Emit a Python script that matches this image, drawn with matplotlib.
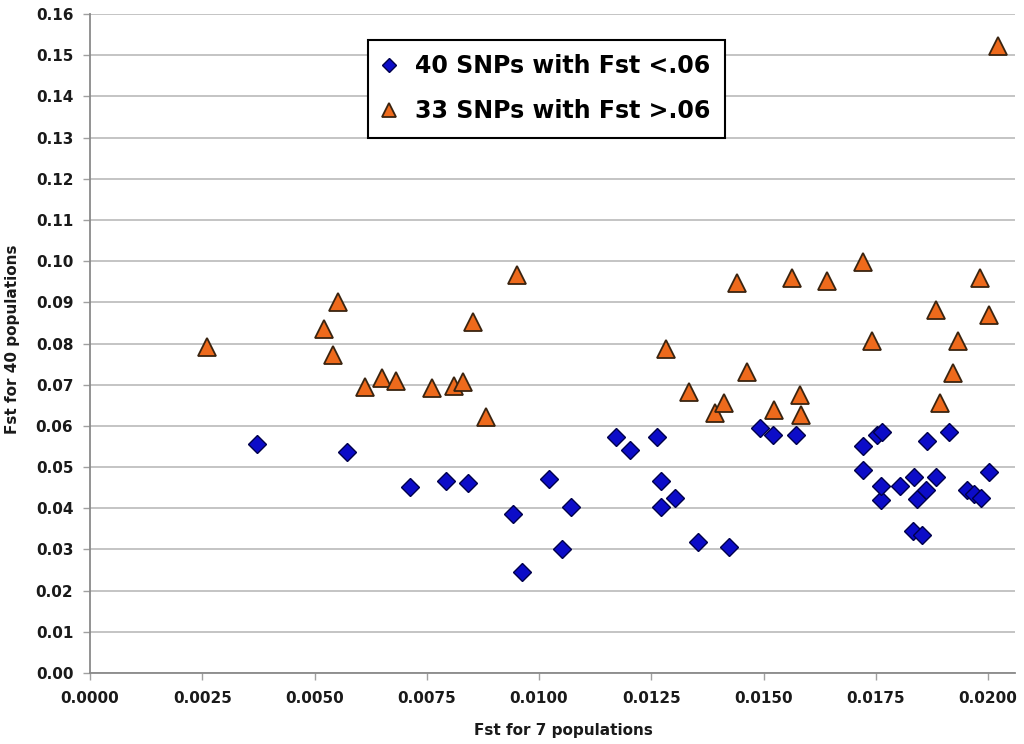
import matplotlib
matplotlib.use("Agg")
import matplotlib.pyplot as plt
from matplotlib.ticker import FormatStrFormatter, MultipleLocator

plt.rcParams['font.family'] = ['DejaVu Sans']
plt.rcParams['font.weight'] = 'bold'

# SNPs with Fst < .06 (40 populations)
low_x = [0.00371, 0.00572, 0.00713, 0.00792, 0.00841, 0.00941, 0.00963, 0.01022,
         0.01052, 0.01071, 0.01172, 0.01203, 0.01262, 0.01272, 0.01272, 0.01303,
         0.01353, 0.01423, 0.01493, 0.01522, 0.01572, 0.01722, 0.01722, 0.01752,
         0.01763, 0.01761, 0.01762, 0.01803, 0.01834, 0.01832, 0.01842, 0.01852,
         0.01862, 0.01863, 0.01884, 0.01913, 0.01953, 0.01968, 0.01985, 0.02003]
low_y = [0.0556, 0.0537, 0.0451, 0.0467, 0.0462, 0.0386, 0.0245, 0.0471,
         0.0301, 0.0403, 0.0573, 0.0542, 0.0574, 0.0467, 0.0404, 0.0424,
         0.0317, 0.0305, 0.0594, 0.0577, 0.0578, 0.0550, 0.0492, 0.0578,
         0.0584, 0.0420, 0.0454, 0.0453, 0.0475, 0.0345, 0.0423, 0.0334,
         0.0445, 0.0564, 0.0476, 0.0586, 0.0444, 0.0434, 0.0424, 0.0488]

# SNPs with Fst > .06
high_x = [0.00261, 0.00521, 0.00552, 0.00542, 0.00613, 0.00650, 0.00682, 0.00761,
          0.00811, 0.00831, 0.00852, 0.00882, 0.00952, 0.01282, 0.01333, 0.01392,
          0.01412, 0.01442, 0.01463, 0.01523, 0.01563, 0.01581, 0.01583, 0.01642,
          0.01722, 0.01742, 0.01883, 0.01892, 0.01923, 0.01933, 0.01982, 0.02003,
          0.02023]
high_y = [0.0791, 0.0835, 0.0900, 0.0771, 0.0695, 0.0716, 0.0710, 0.0692,
          0.0696, 0.0706, 0.0851, 0.0621, 0.0967, 0.0787, 0.0683, 0.0632,
          0.0655, 0.0947, 0.0732, 0.0639, 0.0960, 0.0675, 0.0627, 0.0951,
          0.0999, 0.0805, 0.0882, 0.0655, 0.0728, 0.0807, 0.0959, 0.0870,
          0.1522]

labels = ['40 SNPs with Fst <.06', '33 SNPs with Fst >.06']

fig = plt.figure(figsize=(10.24, 7.44), dpi=100)
ax = fig.add_axes([90/1024, 1-673/744, 925/1024, 659/744])

ax.plot(low_x, low_y, linestyle='none', marker='D', markersize=9,
        markerfacecolor='#0c0cc8', markeredgecolor='#00004a', markeredgewidth=1.0,
        label=labels[0], zorder=3)
ax.plot(high_x, high_y, linestyle='none', marker='^', markersize=12.5,
        markerfacecolor='#ee6a1c', markeredgecolor='#3a2410', markeredgewidth=1.3,
        label=labels[1], zorder=3)

ax.set_xlim(0, 0.0206)
ax.set_ylim(0, 0.16)
ax.xaxis.set_major_locator(MultipleLocator(0.0025))
ax.yaxis.set_major_locator(MultipleLocator(0.01))
ax.xaxis.set_major_formatter(FormatStrFormatter('%.4f'))
ax.yaxis.set_major_formatter(FormatStrFormatter('%.2f'))

ax.grid(axis='y', color='#c4c4c4', linewidth=1.4, zorder=0)
ax.set_axisbelow(True)
for s in ['top', 'right']:
    ax.spines[s].set_visible(False)
for s in ['left', 'bottom']:
    ax.spines[s].set_color('#8a8a8a')
    ax.spines[s].set_linewidth(1.3)

ax.tick_params(axis='both', direction='out', length=5, width=1, color='#a0a0a0',
               labelsize=11, labelcolor='#1a1a1a')
ax.tick_params(axis='x', pad=8)
ax.tick_params(axis='y', pad=7)
for t in ax.get_xticklabels() + ax.get_yticklabels():
    t.set_fontweight('bold')

fig.text(563/1024, 1-731/744, 'Fst for 7 populations', ha='center', va='center',
         fontsize=11, fontweight='bold', color='#1a1a1a')
fig.text(13/1024, 1-339/744, 'Fst for 40 populations', ha='center', va='center',
         rotation=90, fontsize=11, fontweight='bold', color='#1a1a1a')

leg = ax.legend(loc='upper left', bbox_to_anchor=(368/1024, 1-40/744),
                bbox_transform=fig.transFigure, borderaxespad=0, fancybox=False,
                framealpha=1, edgecolor='black', fontsize=17, markerscale=0.75,
                handlelength=0.6, handletextpad=0.8, borderpad=0.6, labelspacing=0.9)
leg.get_frame().set_linewidth(1.5)
for t in leg.get_texts():
    t.set_fontweight('bold')

fig.savefig('out.png', dpi=100)
